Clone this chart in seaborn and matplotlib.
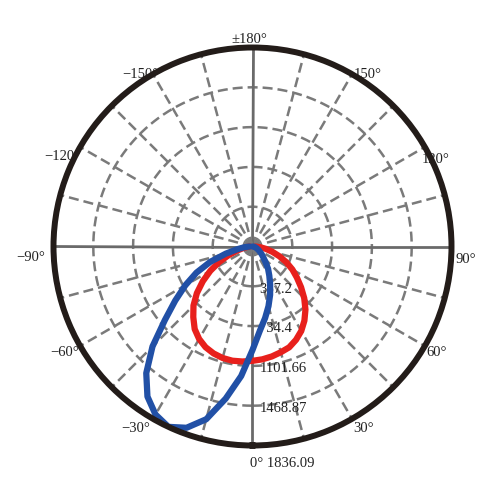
import numpy as np
import pandas as pd
from matplotlib import pyplot as plt
import seaborn as sns

# photometric distribution, cd vs angle (0 deg at bottom)
rmax = 1836.09
ring_values = [367.2, 734.4, 1101.66, 1468.87]
ring_labels = ['367.2', '734.4', '1101.66', '1468.87']

red_angles = [-90, -85, -80, -75, -70, -65, -60, -55, -50, -45, -40, -35, -30,
              -25, -20, -15, -10, -5, 0, 5, 10, 15, 20, 25, 30, 35, 40, 45,
              50, 55, 60, 65, 70, 75, 80, 85, 90]
red_cd = [25, 50, 90, 150, 235, 340, 450, 560, 670, 770, 850, 930, 985,
          1025, 1050, 1065, 1070, 1065, 1055, 1045, 1030, 1010, 990, 950, 900, 835, 760, 675,
          585, 500, 425, 345, 265, 190, 125, 70, 25]

blue_angles = [-90, -85, -80, -75, -70, -65, -60, -55, -50, -45, -40, -35, -30,
               -25, -20, -15, -10, -5, 0, 5, 10, 15, 20, 25, 30, 35, 40, 45,
               50, 60, 70, 80, 90]
blue_cd = [28, 75, 140, 255, 415, 570, 715, 870, 1055, 1305, 1525, 1690, 1790,
           1836, 1780, 1650, 1425, 1200, 955, 780, 670, 570, 475, 385, 310, 250, 185, 140,
           110, 65, 35, 18, 0]

angle_ticks = [0, 30, 60, 90, 120, 150, 180, -150, -120, -90, -60, -30]
angle_labels = ['0° 1836.09', '30°', '60°', '90°', '120°', '150°', '±180°',
                '−150°', '−120°', '−90°', '−60°', '−30°']


def main():
    sns.set_style('white')
    plt.rcParams['font.family'] = ['Liberation Serif', 'DejaVu Serif']

    df = pd.concat([
        pd.DataFrame({'theta': np.deg2rad(red_angles), 'cd': red_cd, 'curve': 'C0'}),
        pd.DataFrame({'theta': np.deg2rad(blue_angles), 'cd': blue_cd, 'curve': 'C90'}),
    ])

    fig = plt.figure(figsize=(5, 5), dpi=100)
    ax = fig.add_axes([0.107, 0.109, 0.796, 0.796], projection='polar')
    ax.set_theta_zero_location('S')
    ax.set_theta_direction(1)
    ax.set_ylim(0, rmax)
    ax.grid(False)
    ax.set_xticks([])
    ax.set_yticks([])
    ax.spines['polar'].set_linewidth(4.3)
    ax.spines['polar'].set_color('#231c19')
    ax.spines['polar'].set_zorder(6)

    gray = '#7a7a7a'
    t = np.linspace(0, 2 * np.pi, 361)
    for r in ring_values:
        ax.plot(t, np.full_like(t, r), color=gray, lw=1.8, ls=(0, (4, 2)), zorder=1)
    for a in range(0, 360, 15):
        if a % 90 == 0:
            ax.plot([np.deg2rad(a)] * 2, [0, rmax], color='#6a6a6a', lw=2, zorder=1)
        else:
            ax.plot([np.deg2rad(a)] * 2, [0, rmax], color=gray, lw=1.8,
                    ls=(0, (4, 2)), zorder=1)

    for r, lab in zip(ring_values, ring_labels):
        ax.annotate(lab, xy=(0, r), xytext=(5, -2), textcoords='offset points',
                    ha='left', va='center', fontsize=10.5, color='#222222', zorder=2)

    offsets = {0: (-2, -13), 30: (1, -7), 60: (1, -5), 90: (3, -9), 120: (-2, -9),
               150: (1, 0), 180: (-2, 1), -150: (4, 0), -120: (0, -7),
               -90: (-6, -8), -60: (-1, -5), -30: (-2, -7)}
    for a, lab in zip(angle_ticks, angle_labels):
        if a == 180:
            ha, va = 'center', 'bottom'
        elif a >= 0:
            ha, va = 'left', 'center'
        else:
            ha, va = 'right', 'center'
        ax.annotate(lab, xy=(np.deg2rad(a), rmax), xytext=offsets[a],
                    textcoords='offset points', ha=ha, va=va, fontsize=10.5,
                    color='#222222', annotation_clip=False, zorder=2)

    sns.lineplot(data=df, x='theta', y='cd', hue='curve', hue_order=['C0', 'C90'],
                 palette=['#e8201c', '#2150a6'], sort=False, estimator=None,
                 linewidth=4.5, legend=False, ax=ax, zorder=4)
    ax.set_xlabel('')
    ax.set_ylabel('')
    ax.set_ylim(0, rmax)

    plt.savefig('out.png', dpi=100)


if __name__ == '__main__':
    main()
